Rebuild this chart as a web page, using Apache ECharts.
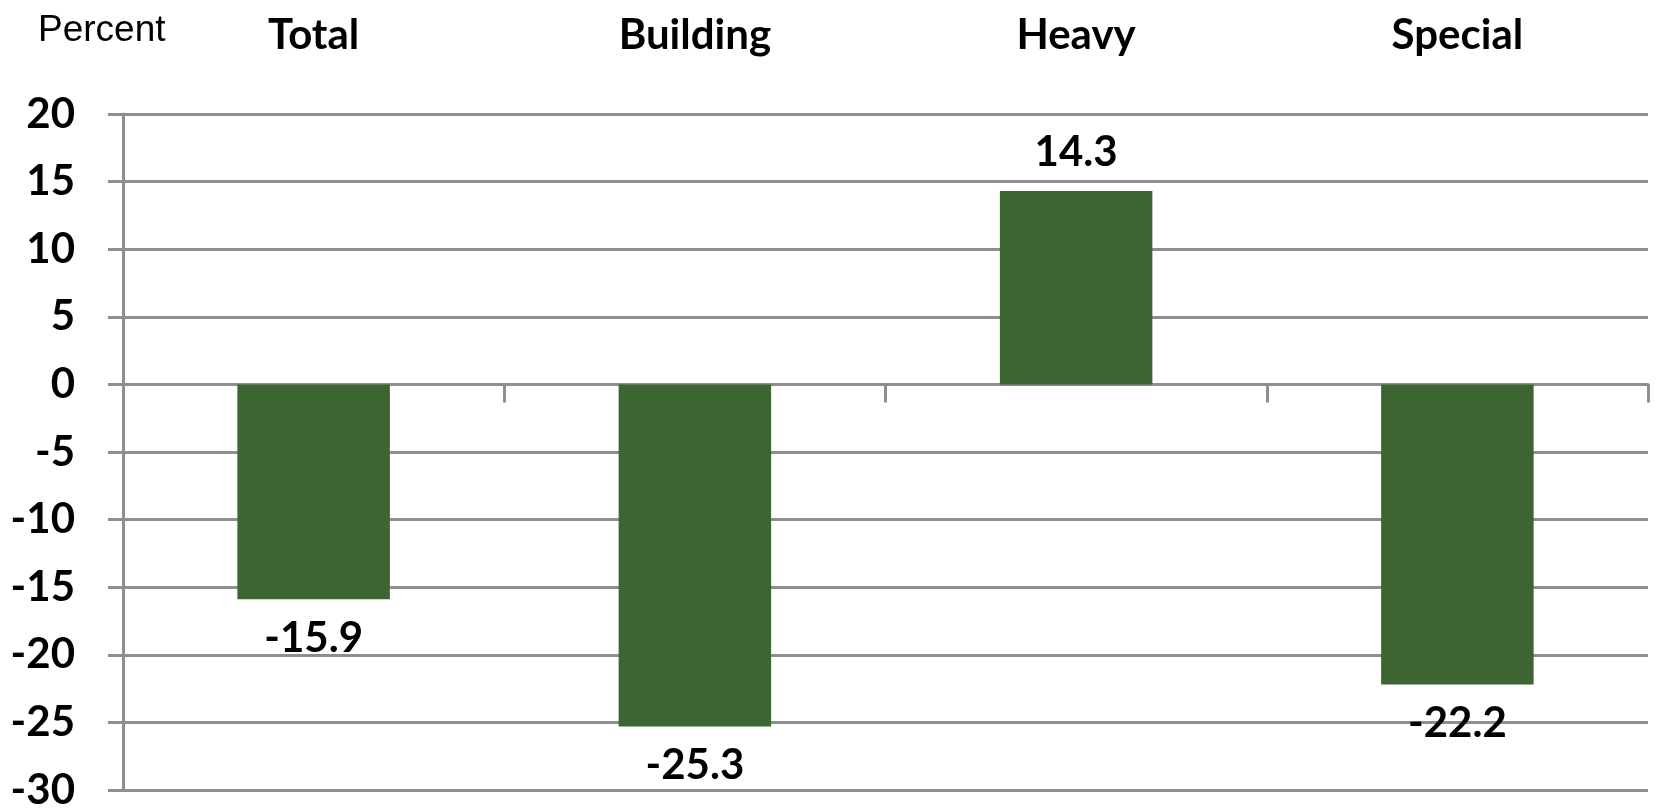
<!DOCTYPE html>
<html>
<head>
<meta charset="utf-8">
<script src="https://cdn.jsdelivr.net/npm/echarts@6/dist/echarts.min.js"></script>
<style>html,body{margin:0;padding:0;background:#fff;}#c{width:1656px;height:811px;}</style>
</head>
<body>
<div id="c"></div>
<script>
const categories = ['Total', 'Building', 'Heavy', 'Special'];
const values = [-15.9, -25.3, 14.3, -22.2];
const yMin = -30, yMax = 20, yStep = 5;
const unitLabel = 'Percent';

const chart = echarts.init(document.getElementById('c'));
const gridColor = '#8e8e8e';
const boldFont = 'Lato';
chart.setOption({
  animation: false,
  backgroundColor: '#ffffff',
  title: {
    text: unitLabel, left: 38, top: 12, padding: 0,
    textStyle: { fontFamily: 'Liberation Sans', fontSize: 37, fontWeight: 'normal', color: '#000' }
  },
  grid: { left: 123, right: 8, top: 114, bottom: 19, containLabel: false },
  xAxis: [{
    type: 'category', data: categories, position: 'bottom',
    axisLine: { onZero: true, lineStyle: { color: gridColor, width: 3 } },
    axisTick: { show: true, inside: false, length: 18, lineStyle: { color: gridColor, width: 3 } },
    axisLabel: { show: false }
  }, {
    type: 'category', data: categories, position: 'top',
    axisLine: { show: false }, axisTick: { show: false },
    axisLabel: { show: true, margin: 58, fontFamily: boldFont, fontWeight: 'bold', fontSize: 42, color: '#000' }
  }],
  yAxis: {
    type: 'value', min: yMin, max: yMax, interval: yStep,
    axisLine: { show: true, lineStyle: { color: gridColor, width: 3 } },
    axisTick: { show: true, length: 15, lineStyle: { color: gridColor, width: 3 } },
    splitLine: { show: true, lineStyle: { color: gridColor, width: 3 } },
    axisLabel: { margin: 48, fontFamily: boldFont, fontWeight: 'bold', fontSize: 42, color: '#000' }
  },
  series: [{
    type: 'bar', xAxisIndex: 0, barWidth: '40%',
    itemStyle: { color: '#3d6531' },
    data: values.map(v => ({
      value: v,
      label: { show: true, position: v < 0 ? 'bottom' : 'top' }
    })),
    label: {
      show: true, distance: 18, fontFamily: boldFont, fontWeight: 'bold', fontSize: 42, color: '#000',
      formatter: p => p.value.toFixed(1)
    }
  }]
});
</script>
</body>
</html>
